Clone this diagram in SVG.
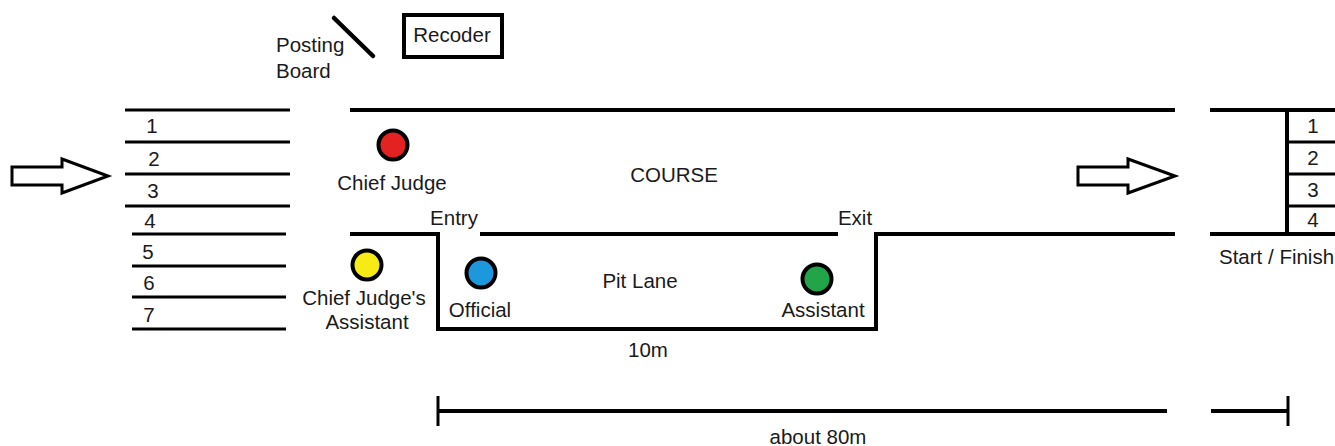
<svg xmlns="http://www.w3.org/2000/svg" width="1335" height="446" viewBox="0 0 1335 446">
<style>
.t{font-family:"Liberation Sans",Arial,sans-serif;font-size:20.5px;fill:#1a1a1a}
.c{text-anchor:middle}
.ln{stroke:#000;stroke-width:4;fill:none}
.lane{stroke:#000;stroke-width:3;fill:none}
.arr{fill:#fff;stroke:#000;stroke-width:3;stroke-linejoin:miter}
.dot{stroke:#000;stroke-width:4}
</style>
<rect width="1335" height="446" fill="#fff"/>
<g id="connectors">
<g id="left-lanes">
<path class="lane" d="M125 110H290M125 142H290M125 174H290M125 206H290M132 234H286M132 266H286M132 297H286M132 329H286"/>
</g>
<g id="course">
<path class="ln" d="M350 110H1175"/>
<path class="ln" d="M350 234H438V329H876V234H1175"/>
<path class="ln" d="M480 234H838"/>
<path class="ln" d="M1210 110H1335M1210 234H1335"/>
<path class="ln" d="M1287 110V236"/>
<path class="lane" d="M1287 142H1335M1287 174H1335M1287 206H1335"/>
</g>
<g id="scale">
<path class="ln" d="M438 411H1167M1211 411H1287"/>
<path class="lane" d="M438 396V426M1288 396V426"/>
</g>
</g>
<g id="arrow-left"><polygon class="arr" points="12,167 62,167 62,159 108,176 62,193 62,185 12,185"/></g>
<g id="arrow-right"><polygon class="arr" points="1078,167 1128,167 1128,159 1175,176 1128,193 1128,185 1078,185"/></g>
<g id="posting-board">
<line x1="334" y1="18" x2="373" y2="56" stroke="#000" stroke-width="4.5" stroke-linecap="round"/>
<text class="t" x="276" y="52">Posting</text>
<text class="t" x="276" y="78">Board</text>
</g>
<g id="recoder">
<rect x="404" y="15" width="98" height="42" fill="#fff" stroke="#000" stroke-width="4"/>
<text class="t c" x="452" y="42">Recoder</text>
</g>
<g id="left-numbers">
<text class="t c" x="152" y="133">1</text>
<text class="t c" x="154" y="166">2</text>
<text class="t c" x="153" y="198">3</text>
<text class="t c" x="150" y="228">4</text>
<text class="t c" x="148" y="259">5</text>
<text class="t c" x="149" y="290">6</text>
<text class="t c" x="149" y="322">7</text>
</g>
<g id="right-numbers">
<text class="t c" x="1313" y="133">1</text>
<text class="t c" x="1313" y="165">2</text>
<text class="t c" x="1313" y="197">3</text>
<text class="t c" x="1313" y="227">4</text>
<text class="t" x="1219" y="264">Start / Finish</text>
</g>
<g id="chief-judge">
<circle class="dot" cx="393" cy="145" r="14.5" fill="#e52222"/>
<text class="t c" x="392" y="190">Chief Judge</text>
</g>
<g id="chief-judge-assistant">
<circle class="dot" cx="367" cy="265" r="14.5" fill="#f7eb16"/>
<text class="t c" x="364" y="305">Chief Judge's</text>
<text class="t c" x="367" y="329">Assistant</text>
</g>
<g id="official">
<circle class="dot" cx="481" cy="273" r="14.5" fill="#1e98dd"/>
<text class="t c" x="480" y="317">Official</text>
</g>
<g id="assistant">
<circle class="dot" cx="817" cy="279" r="14.5" fill="#22a548"/>
<text class="t c" x="823" y="317">Assistant</text>
</g>
<g id="labels">
<text class="t c" x="674" y="182">COURSE</text>
<text class="t c" x="454" y="225">Entry</text>
<text class="t c" x="855" y="225">Exit</text>
<text class="t c" x="640" y="288">Pit Lane</text>
<text class="t c" x="648" y="357">10m</text>
<text class="t c" x="818" y="444">about 80m</text>
</g>
</svg>
